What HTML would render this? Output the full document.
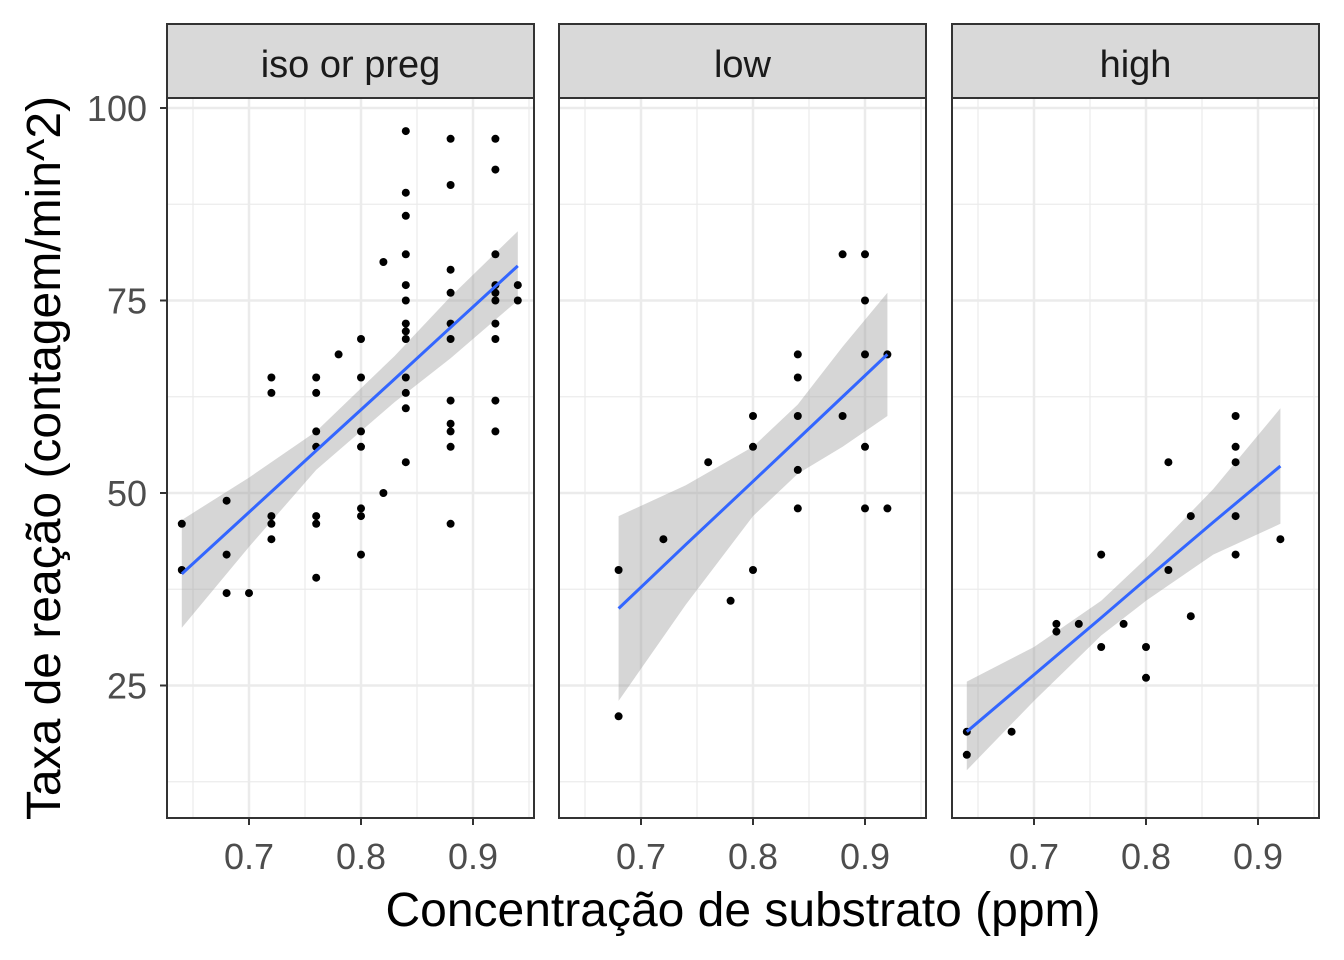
<!DOCTYPE html>
<html><head><meta charset="utf-8"><style>
body{margin:0;background:#fff}
svg{display:block;font-family:"Liberation Sans",Arial,sans-serif}
</style></head><body>
<svg id="c" width="1344" height="960"></svg>
<script>
const panelNames=["iso or preg","low","high"];
const p1x=[0.64,0.64,0.68,0.68,0.68,0.70,0.72,0.72,0.72,0.72,0.72,0.76,0.76,0.76,0.76,0.76,0.76,0.76,0.78,0.80,0.80,0.80,0.80,0.80,0.80,0.80,0.82,0.82,0.84,0.84,0.84,0.84,0.84,0.84,0.84,0.84,0.84,0.84,0.84,0.84,0.84,0.88,0.88,0.88,0.88,0.88,0.88,0.88,0.88,0.88,0.88,0.88,0.92,0.92,0.92,0.92,0.92,0.92,0.92,0.92,0.92,0.92,0.94,0.94];
const p1y=[46,40,49,42,37,37,65,63,47,46,44,65,63,58,56,47,46,39,68,70,65,58,56,48,47,42,80,50,97,89,86,81,77,75,72,71,70,65,63,61,54,96,90,79,76,72,70,62,59,58,56,46,96,92,81,77,76,75,72,70,62,58,77,75];
const p2x=[0.68,0.68,0.72,0.76,0.78,0.80,0.80,0.80,0.84,0.84,0.84,0.84,0.84,0.88,0.88,0.90,0.90,0.90,0.90,0.90,0.92,0.92];
const p2y=[40,21,44,54,36,60,56,40,68,65,60,53,48,81,60,81,75,68,56,48,68,48];
const p3x=[0.64,0.64,0.68,0.72,0.72,0.74,0.76,0.76,0.78,0.80,0.80,0.82,0.82,0.84,0.84,0.88,0.88,0.88,0.88,0.88,0.92];
const p3y=[19,16,19,33,32,33,42,30,33,30,26,54,40,47,34,60,56,54,47,42,44];
const fitX=[[0.64,0.70,0.76,0.83,0.88,0.94],[0.68,0.74,0.80,0.84,0.88,0.92],[0.64,0.70,0.76,0.80,0.86,0.92]];
const fitY=[[39.5,47.5,55.5,64.8,71.5,79.5],[35,43.3,51.5,57,62.5,68],[19,26.4,33.8,38.8,46.2,53.5]];
const loY=[[32.5,43,53,61.8,67.5,75],[23,35.5,47,52.5,56,60],[14,23,31.5,36,42,46]];
const hiY=[[46.5,52,58,67.8,75.5,84],[47,51,56,61.5,69,76],[25.5,30,36,41.5,50.5,61]];
const yTicks=[25,50,75,100], xTicks=[0.7,0.8,0.9];
const panelLeft=[167,559,952], PW=367, plotTop=98, plotBot=818;
const yS=v=>108+(100-v)*7.7;
const ns="http://www.w3.org/2000/svg", svgRoot=document.getElementById('c');
function el(t,a,p){const e=document.createElementNS(ns,t);for(const k in a)e.setAttribute(k,a[k]);(p||svgRoot).appendChild(e);return e;}
const PX=[p1x,p2x,p3x],PY=[p1y,p2y,p3y];
panelNames.forEach((nm,i)=>{
  const L=panelLeft[i]; const xS=v=>L+82+(v-0.7)*1120;
  const g=el('g',{});
  
  
  [12.5,37.5,62.5,87.5].forEach(v=>el('line',{x1:L,x2:L+PW,y1:yS(v),y2:yS(v),stroke:'#ebebeb','stroke-width':1.2},g));
  [0.65,0.75,0.85,0.95].forEach(v=>{if(xS(v)<L+PW)el('line',{x1:xS(v),x2:xS(v),y1:plotTop,y2:plotBot,stroke:'#ebebeb','stroke-width':1.2},g)});
  yTicks.forEach(v=>el('line',{x1:L,x2:L+PW,y1:yS(v),y2:yS(v),stroke:'#ebebeb','stroke-width':2.5},g));
  xTicks.forEach(v=>{el('line',{x1:xS(v),x2:xS(v),y1:plotTop,y2:plotBot,stroke:'#ebebeb','stroke-width':2.5},g);
    el('line',{x1:xS(v),x2:xS(v),y1:plotBot,y2:plotBot+7,stroke:'#333','stroke-width':2},g);
    const t=el('text',{x:xS(v),y:869,'text-anchor':'middle','font-size':36,fill:'#4d4d4d'},g);t.textContent=v.toFixed(1);});
  let d='';fitX[i].forEach((x,j)=>d+=(j?'L':'M')+xS(x)+','+yS(hiY[i][j]));
  for(let j=fitX[i].length-1;j>=0;j--)d+='L'+xS(fitX[i][j])+','+yS(loY[i][j]);
  const r=el('path',{d:d+'Z',fill:'#999','fill-opacity':0.4},g);
  
  
  PX[i].forEach((x,j)=>{const c=el('circle',{cx:xS(x),cy:yS(PY[i][j]),r:4,fill:'#000'},g);
    
    });
  let d2='';fitX[i].forEach((x,j)=>d2+=(j?'L':'M')+xS(x)+','+yS(fitY[i][j]));
  const ln=el('path',{d:d2,fill:'none',stroke:'#3366ff','stroke-width':3},g);
  
  
  el('rect',{x:L,y:plotTop,width:PW,height:plotBot-plotTop,fill:'none',stroke:'#333','stroke-width':2},g);
  const s=el('rect',{x:L,y:24,width:PW,height:plotTop-24,fill:'#d9d9d9',stroke:'#333','stroke-width':2},g);
  
  
  const st=el('text',{x:L+PW/2,y:77,'text-anchor':'middle','font-size':38,fill:'#1a1a1a'},g);st.textContent=nm;
});
yTicks.forEach(v=>{el('line',{x1:160,x2:167,y1:yS(v),y2:yS(v),stroke:'#333','stroke-width':2});
  const t=el('text',{x:147,y:yS(v)+13,'text-anchor':'end','font-size':36,fill:'#4d4d4d'});t.textContent=v;});
const yt=el('text',{x:0,y:0,'text-anchor':'middle','font-size':48,fill:'#000',transform:'translate(60,458) rotate(-90)'});
yt.textContent='Taxa de reação (contagem/min^2)';


const xt=el('text',{x:743,y:926,'text-anchor':'middle','font-size':48,fill:'#000'});
xt.textContent='Concentração de substrato (ppm)';


</script>
</body></html>
